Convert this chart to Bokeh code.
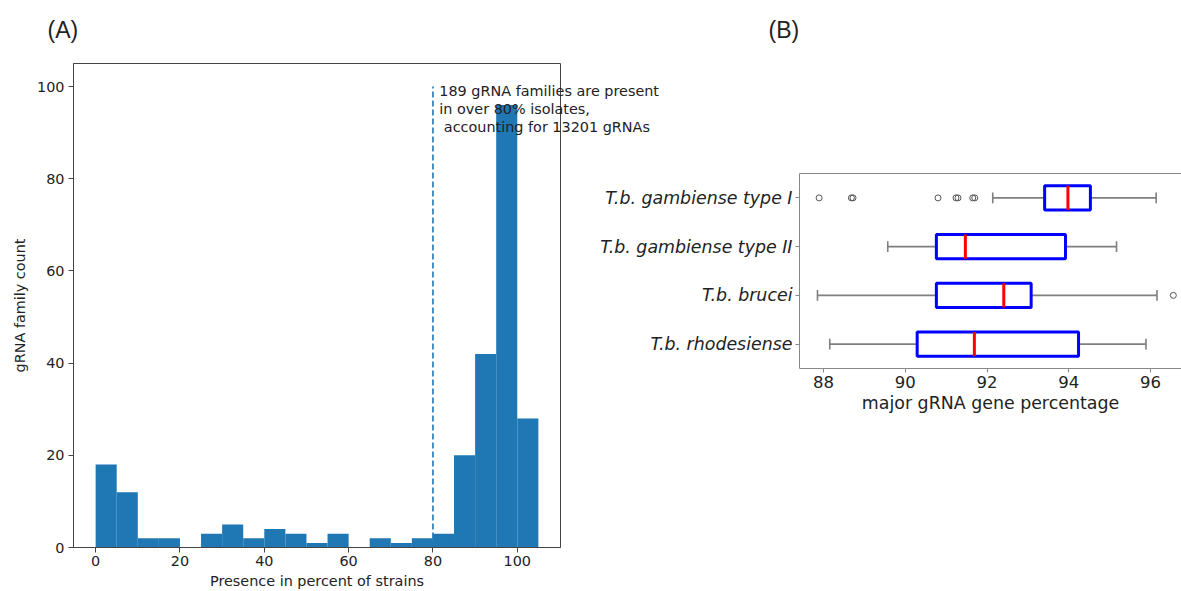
from bokeh.plotting import figure
from bokeh.layouts import row
from bokeh.models import Range1d, FixedTicker, LinearAxis
from bokeh.core.properties import value
from bokeh.embed import file_html
from bokeh.resources import INLINE

# ---------------- Panel A data ----------------
bin_edges = [0, 5, 10, 15, 20, 25, 30, 35, 40, 45, 50, 55, 60, 65, 70, 75, 80, 85, 90, 95, 100, 105]
family_counts = [18, 12, 2, 2, 0, 3, 5, 2, 4, 3, 1, 3, 0, 2, 1, 2, 3, 20, 42, 96, 28]
threshold_x = 80
threshold_top = 100
annotation_text = "189 gRNA families are present\nin over 80% isolates,\n\u00a0accounting for 13201 gRNAs"
a_xticks = [0, 20, 40, 60, 80, 100]
a_yticks = [0, 20, 40, 60, 80, 100]

# ---------------- Panel B data ----------------
groups = ["T.b. gambiense type I", "T.b. gambiense type II", "T.b. brucei", "T.b. rhodesiense"]
q1 = [93.41, 90.76, 90.76, 90.29]
median = [93.98, 91.47, 92.41, 91.69]
q3 = [94.53, 93.92, 93.08, 94.24]
whisker_low = [92.14, 89.57, 87.85, 88.15]
whisker_high = [96.14, 95.17, 96.16, 95.89]
outlier_group = [0, 0, 0, 0, 0, 0, 0, 0, 2]
outlier_value = [87.89, 88.68, 88.72, 90.80, 91.24, 91.29, 91.65, 91.70, 96.56]
b_xticks = [88, 90, 92, 94, 96]

FONT = "DejaVu Sans"
BLUE = "#1f77b4"
TXT = "#222222"

# ================= Panel A =================
A_X = (-5.25, 110.25)
A_Y = (0, 105)
pA = figure(width=673, height=591, x_range=Range1d(*A_X), y_range=Range1d(*A_Y),
            output_backend="svg", toolbar_location=None,
            min_border_left=73, min_border_right=113, min_border_top=63, min_border_bottom=43)
pA.frame_align = False
pA.xgrid.visible = False
pA.ygrid.visible = False
pA.outline_line_color = "#444444"
pA.outline_line_width = 1

pA.quad(left=bin_edges[:-1], right=bin_edges[1:], bottom=0, top=family_counts,
        fill_color=BLUE, line_color=None)
pA.segment(x0=[threshold_x], x1=[threshold_x], y0=[0], y1=[threshold_top],
           line_color=BLUE, line_width=1.6, line_dash="6 3")
pA.text(x=[threshold_x + 1.5], y=[threshold_top], text=[annotation_text],
        text_align="left", text_baseline="top", text_font=value(FONT),
        text_font_size="14.4px", text_color=TXT, text_line_height=1.15,
        y_offset=-4, level="overlay")

for ax, ticks in ((pA.xaxis[0], a_xticks), (pA.yaxis[0], a_yticks)):
    ax.ticker = FixedTicker(ticks=ticks)
    ax.major_tick_in = 0
    ax.major_tick_out = 5
    ax.minor_tick_line_color = None
    ax.axis_line_color = "#444444"
    ax.major_tick_line_color = "#444444"
    ax.major_label_text_font = FONT
    ax.major_label_text_font_size = "14.4px"
    ax.major_label_text_color = TXT
    ax.axis_label_text_font = FONT
    ax.axis_label_text_font_size = "14.4px"
    ax.axis_label_text_font_style = "normal"
    ax.axis_label_text_color = TXT
pA.xaxis.axis_label = "Presence in percent of strains"
pA.yaxis.axis_label = "gRNA family count"
pA.xaxis.major_label_standoff = 3
pA.xaxis.axis_label_standoff = 4
pA.yaxis.major_label_standoff = 4
pA.yaxis.axis_label_standoff = 6

# panel tag "(A)" anchored at the frame's top-left corner
pA.text(x=[A_X[0]], y=[A_Y[1]], text=["(A)"], text_align="left", text_baseline="middle",
        text_font=value("Liberation Sans"), text_font_size="23px", text_color=TXT,
        x_offset=-26, y_offset=-34, level="overlay")

# ================= Panel B =================
B_X = (87.41, 96.76)
B_Y = (4.5, 0.5)
pos = [i + 1 for i in range(len(groups))]
pB = figure(width=601, height=591, x_range=Range1d(*B_X), y_range=Range1d(*B_Y),
            output_backend="svg", toolbar_location=None,
            min_border_left=219, min_border_right=0, min_border_top=173, min_border_bottom=223)
pB.frame_align = False
pB.margin = (0, 0, 0, -93)
pB.border_fill_color = None
pB.outline_line_color = None
pB.xgrid.visible = False
pB.ygrid.visible = False

GRAY = "#7f7f7f"
cap_half = 0.11
pB.segment(x0=whisker_low, x1=q1, y0=pos, y1=pos, line_color=GRAY, line_width=1.6)
pB.segment(x0=q3, x1=whisker_high, y0=pos, y1=pos, line_color=GRAY, line_width=1.6)
pB.segment(x0=whisker_low, x1=whisker_low, y0=[p - cap_half for p in pos],
           y1=[p + cap_half for p in pos], line_color=GRAY, line_width=1.6)
pB.segment(x0=whisker_high, x1=whisker_high, y0=[p - cap_half for p in pos],
           y1=[p + cap_half for p in pos], line_color=GRAY, line_width=1.6)
pB.hbar(y=pos, left=q1, right=q3, height=0.5, fill_color=None,
        line_color="#0000ff", line_width=3)
pB.segment(x0=median, x1=median, y0=[p - 0.25 for p in pos], y1=[p + 0.25 for p in pos],
           line_color="#ff0000", line_width=3)
pB.scatter(x=outlier_value, y=[pos[g] for g in outlier_group], marker="circle", size=6,
           fill_color=None, line_color="#555555", line_width=1)

yax = pB.yaxis[0]
yax.ticker = FixedTicker(ticks=pos)
yax.major_label_overrides = {p: g for p, g in zip(pos, groups)}
yax.major_label_text_font = FONT
yax.major_label_text_font_size = "17.4px"
yax.major_label_text_font_style = "italic"
yax.major_label_text_color = TXT
yax.major_tick_in = 0
yax.major_tick_out = 4
yax.major_label_standoff = 3
yax.minor_tick_line_color = None
yax.axis_line_color = "#888888"
yax.major_tick_line_color = "#888888"

xax = pB.xaxis[0]
xax.ticker = FixedTicker(ticks=b_xticks)
xax.major_label_text_font = FONT
xax.major_label_text_font_size = "16.5px"
xax.major_label_text_color = TXT
xax.major_tick_in = 0
xax.major_tick_out = 4
xax.major_label_standoff = 3
xax.minor_tick_line_color = None
xax.axis_line_color = "#888888"
xax.major_tick_line_color = "#888888"
xax.axis_label = "major gRNA gene percentage"
xax.axis_label_text_font = FONT
xax.axis_label_text_font_size = "17.4px"
xax.axis_label_text_font_style = "normal"
xax.axis_label_text_color = TXT
xax.axis_label_standoff = 2

top_ax = LinearAxis(ticker=FixedTicker(ticks=[]), axis_line_color="#888888",
                    major_tick_line_color=None, minor_tick_line_color=None)
pB.add_layout(top_ax, "above")

# panel tag "(B)" anchored at the frame's top-left corner
pB.text(x=[B_X[0]], y=[B_Y[1]], text=["(B)"], text_align="left", text_baseline="middle",
        text_font=value("Liberation Sans"), text_font_size="23px", text_color=TXT,
        x_offset=-31, y_offset=-144, level="overlay")

layout = row(pA, pB)
open("out.html", "w").write(file_html(layout, INLINE))
